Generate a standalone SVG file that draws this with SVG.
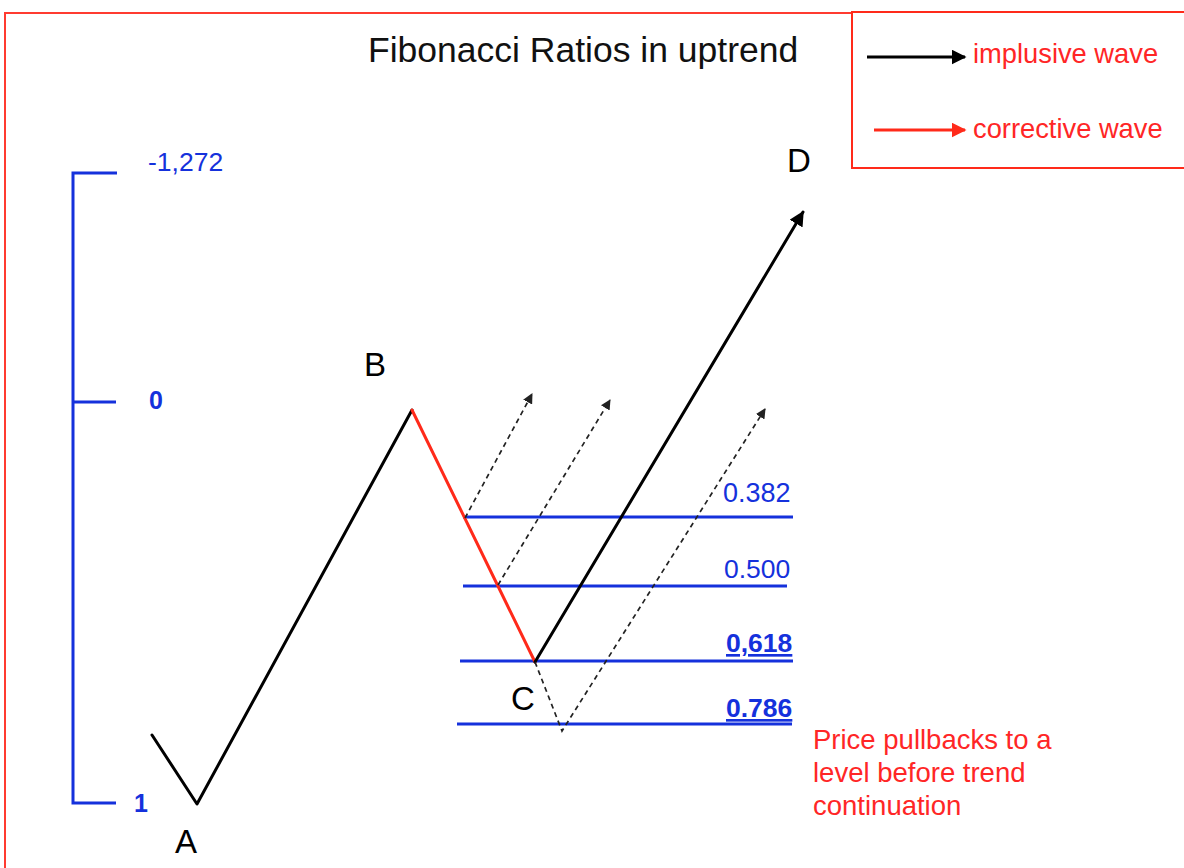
<svg xmlns="http://www.w3.org/2000/svg" width="1184" height="868" viewBox="0 0 1184 868">
<style>
text{font-family:"Liberation Sans",Arial,sans-serif}
.blue{fill:#1531dc}
.red{fill:#ff2626}
.lbl{font-size:33px;fill:#000}
.lvl{stroke:#1531dc;stroke-width:3;fill:none}
.imp{stroke:#000;stroke-width:3;fill:none;stroke-linecap:round;stroke-linejoin:round}
.cor{stroke:#ff2a1a;stroke-width:3;fill:none;stroke-linecap:round}
.dash{stroke:#222;stroke-width:1.7;stroke-dasharray:5 4;fill:none}
</style>
<defs>
<marker id="ab" viewBox="0 0 10 10" refX="9" refY="5" markerWidth="5" markerHeight="5" orient="auto" markerUnits="strokeWidth"><path d="M0,0L10,5L0,10z" fill="#000"/></marker>
<marker id="ar" viewBox="0 0 10 10" refX="9" refY="5" markerWidth="5" markerHeight="5" orient="auto" markerUnits="strokeWidth"><path d="M0,0L10,5L0,10z" fill="#ff2a1a"/></marker>
<marker id="ad" viewBox="0 0 10 10" refX="9" refY="5" markerWidth="6" markerHeight="6" orient="auto" markerUnits="strokeWidth"><path d="M0,0L10,5L0,10z" fill="#222"/></marker>
</defs>
<rect width="1184" height="868" fill="#fff"/>
<path d="M5,868 V13 H852" stroke="#ff3b30" stroke-width="2" fill="none"/>
<g id="title"><text x="368" y="62" font-size="35.5" fill="#111">Fibonacci Ratios in uptrend</text></g>
<g id="legend">
<rect x="852" y="12" width="340" height="156" fill="none" stroke="#ff2a1a" stroke-width="2"/>
<line x1="867" y1="57" x2="965" y2="57" stroke="#000" stroke-width="3" marker-end="url(#ab)"/>
<text x="973" y="63" font-size="27.3" class="red">implusive wave</text>
<line x1="874" y1="130" x2="965" y2="130" stroke="#ff2a1a" stroke-width="3" marker-end="url(#ar)"/>
<text x="973" y="138" font-size="27.3" class="red">corrective wave</text>
</g>
<g id="scale">
<path d="M117,173 H73 V803 H116 M73,402 H116" class="lvl"/>
<text x="148" y="171" font-size="26.5" class="blue">-1,272</text>
<text x="149" y="409" font-size="25" font-weight="bold" class="blue">0</text>
<text x="134" y="812" font-size="25" font-weight="bold" class="blue">1</text>
</g>
<g id="levels">
<line x1="463" y1="517" x2="793" y2="517" class="lvl"/>
<line x1="463" y1="586" x2="787" y2="586" class="lvl"/>
<line x1="460" y1="661" x2="793" y2="661" class="lvl" stroke-width="4.5"/>
<line x1="457" y1="724" x2="792" y2="724" class="lvl"/>
<text x="723" y="502" font-size="27" class="blue">0.382</text>
<text x="724" y="578" font-size="26.5" class="blue">0.500</text>
<text x="726" y="652" font-size="26.5" font-weight="bold" class="blue" text-decoration="underline">0,618</text>
<text x="726" y="717" font-size="26.5" font-weight="bold" class="blue" text-decoration="underline">0.786</text>
</g>
<g id="connectors">
<polyline points="152,735 197,804 412,410" class="imp"/>
<line x1="412" y1="410" x2="535" y2="662" class="cor"/>
<line x1="535" y1="662" x2="803" y2="212" class="imp" marker-end="url(#ab)"/>
<line x1="465" y1="518" x2="532" y2="394" class="dash" marker-end="url(#ad)"/>
<line x1="498" y1="585" x2="610" y2="400" class="dash" marker-end="url(#ad)"/>
<polyline points="535,662 562,731 765,409" class="dash" marker-end="url(#ad)"/>
</g>
<g id="labels">
<text x="175" y="853" class="lbl">A</text>
<text x="364" y="376" class="lbl">B</text>
<text x="511" y="710" class="lbl">C</text>
<text x="787" y="172" class="lbl">D</text>
</g>
<g id="note">
<text font-size="27.5" class="red"><tspan x="813" y="749">Price pullbacks to a</tspan><tspan x="813" y="782">level before trend</tspan><tspan x="813" y="815">continuation</tspan></text>
</g>
</svg>
